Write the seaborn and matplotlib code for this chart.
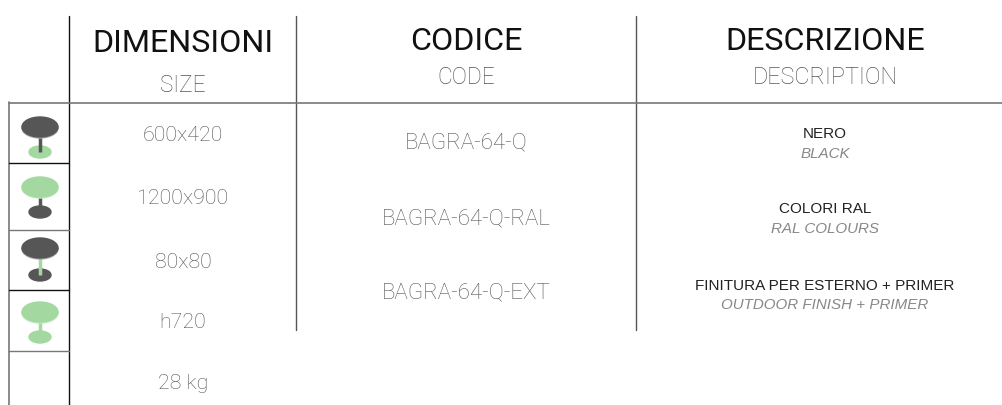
import matplotlib
matplotlib.use("Agg")
import matplotlib.pyplot as plt
import seaborn as sns
from matplotlib.patches import Ellipse

sns.set_theme(style="white")
plt.rcParams['font.family'] = ['Roboto', 'DejaVu Sans']

DARK = "#565656"
GREEN = "#a3d9a1"
GRID = "#777777"

headers_it = ["DIMENSIONI", "CODICE", "DESCRIZIONE"]
headers_en = ["SIZE", "CODE", "DESCRIPTION"]
sizes = ["600x420", "1200x900", "80x80", "h720", "28 kg"]
codes = ["BAGRA-64-Q", "BAGRA-64-Q-RAL", "BAGRA-64-Q-EXT"]
desc_it = ["NERO", "COLORI RAL", "FINITURA PER ESTERNO + PRIMER"]
desc_en = ["BLACK", "RAL COLOURS", "OUTDOOR FINISH + PRIMER"]
icon_top = [DARK, GREEN, DARK, GREEN]
icon_stem = [DARK, DARK, GREEN, GREEN]
icon_base = [GREEN, DARK, DARK, GREEN]

fig, ax = plt.subplots(figsize=(10.02, 4.06), dpi=100)
fig.subplots_adjust(0, 0, 1, 1)
ax.set_xlim(0, 1002)
ax.set_ylim(406, 0)
ax.axis("off")

# table lines
ax.plot([69, 69], [17, 407], color="#111111", lw=1)
ax.plot([296, 296], [17, 331], color="#555555", lw=1)
ax.plot([636, 636], [17, 331], color="#555555", lw=1)
ax.plot([9, 1002], [103.5, 103.5], color=GRID, lw=1.2)
ax.plot([9, 9], [103, 407], color=GRID, lw=1.2)
row_y = [163.5, 230.5, 290.5, 351.5]
row_c = ["#111111", GRID, "#111111", GRID]
for y, c in zip(row_y, row_c):
    ax.plot([9, 69], [y, y], color=c, lw=1)

# headers
head_x = [183, 466, 825]
head_y = [43, 42, 42]
sub_y = [85, 77, 77]
sub_fs = [16.3, 16.3, 16.8]
for x, y, y2, fs, a, b in zip(head_x, head_y, sub_y, sub_fs, headers_it, headers_en):
    ax.text(x, y, a, ha="center", va="center", fontsize=23.2, color="#111111")
    ax.text(x, y2, b, ha="center", va="center", fontsize=fs, color="#555555", fontweight="light")

# columns
size_y = [136, 199, 263, 323, 384]
for y, s in zip(size_y, sizes):
    ax.text(183, y, s, ha="center", va="center", fontsize=15.4, color="#555555", fontweight="light")
code_y = [143, 219, 293]
for y, s in zip(code_y, codes):
    ax.text(466, y, s, ha="center", va="center", fontsize=16.1, color="#555555", fontweight="light")
desc_y = [134, 209, 286]
en_y = [154, 229, 305]
for y, y2, a, b in zip(desc_y, en_y, desc_it, desc_en):
    ax.text(825, y, a, ha="center", va="center", fontsize=11, color="#222222", fontfamily="Liberation Sans")
    ax.text(825, y2, b, ha="center", va="center", fontsize=10.9, color="#888888", style="italic", fontfamily="Liberation Sans")

# table icons
top_y = [128, 188, 249, 313]
base_y = [153, 213, 276, 338]
for ty, by, ct, cs, cb in zip(top_y, base_y, icon_top, icon_stem, icon_base):
    ax.add_patch(Ellipse((40, by), 22, 12, color=cb, zorder=2))
    ax.plot([40, 40], [ty, by], color=cs, lw=2.5, zorder=3, solid_capstyle="butt")
    ax.add_patch(Ellipse((40, ty + 1), 36, 20, color="#aaaaaa" if ct == DARK else "#c4e8c2", zorder=4))
    ax.add_patch(Ellipse((40, ty), 36, 20, color=ct, zorder=5))

fig.savefig("out.png", dpi=100)
